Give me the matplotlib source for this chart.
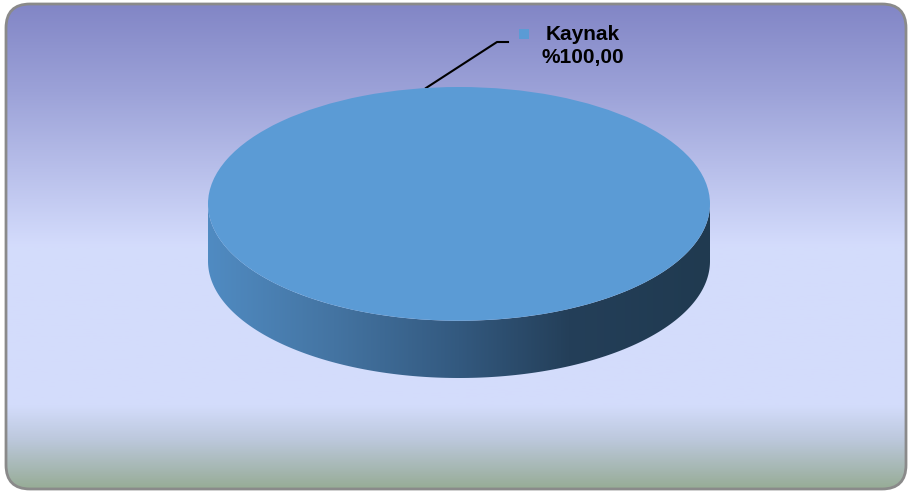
import numpy as np
import matplotlib
import matplotlib.pyplot as plt
from matplotlib.patches import FancyBboxPatch, Polygon, Rectangle
from matplotlib.colors import LinearSegmentedColormap

plt.rcParams['font.family'] = ['Liberation Sans', 'DejaVu Sans']

# data
labels = ['Kaynak']
values = [100.0]
colors = ['#5b9bd5']

W, H = 909, 493
fig = plt.figure(figsize=(W / 100, H / 100), dpi=100)

# background panel in pixel coordinates
bg = fig.add_axes([0, 0, 1, 1])
bg.set_xlim(0, W)
bg.set_ylim(H, 0)
bg.axis('off')

bg_cmap = LinearSegmentedColormap.from_list('bg', [
    (0.0, '#8286c6'), (0.18, '#9ca2d8'), (0.50, '#d4dcfc'),
    (0.83, '#d3dcfb'), (0.90, '#bcc8dc'), (1.0, '#97ac96')])
grad = np.linspace(0, 1, 256).reshape(-1, 1)
panel = FancyBboxPatch((6, 4), 900, 485, boxstyle='round,pad=0,rounding_size=24',
                       facecolor='none', edgecolor='#8a8a8a', linewidth=2, zorder=3)
bg.add_patch(panel)
img = bg.imshow(grad, cmap=bg_cmap, extent=(6, 906, 489, 4), aspect='auto', zorder=1)
img.set_clip_path(panel)

# pie axes: unit ellipse top face plus side depth
depth = 0.49
px_l, px_r, px_t, px_b = 208, 710, 87, 378
ax = fig.add_axes([px_l / W, (H - px_b) / H, (px_r - px_l) / W, (px_b - px_t) / H])
ax.patch.set_alpha(0)

# side band (front half of the cylinder)
t = np.linspace(np.pi, 2 * np.pi, 200)
top_edge = np.column_stack([np.cos(t), np.sin(t)])
bot_edge = np.column_stack([np.cos(t[::-1]), np.sin(t[::-1]) - depth])
side = Polygon(np.vstack([top_edge, bot_edge]), closed=True, facecolor='none',
               edgecolor='none', zorder=1)
ax.add_patch(side)
side_cmap = LinearSegmentedColormap.from_list('side', [
    (0.0, '#508bc2'), (0.25, '#4474a2'), (0.5, '#33597f'),
    (0.72, '#243f59'), (1.0, '#203a50')])
sg = ax.imshow(np.linspace(0, 1, 256).reshape(1, -1), cmap=side_cmap,
               extent=(-1, 1, -1 - depth, 0.05), aspect='auto', zorder=1)
sg.set_clip_path(side)

wedges, _ = ax.pie(values, colors=colors, radius=1, center=(0, 0), startangle=90,
                   wedgeprops=dict(linewidth=0))
for w in wedges:
    w.set_zorder(2)
ax.set_aspect('auto')
ax.set_xlim(-1, 1)
ax.set_ylim(-1 - depth, 1)
ax.axis('off')

# leader line and label
bg.plot([426, 497, 508], [88, 42, 42], color='black', linewidth=1.5, zorder=5)
bg.add_patch(Rectangle((519, 29), 10, 10, facecolor=colors[0], edgecolor='none', zorder=5))
pct = ('%' + f'{values[0] / sum(values) * 100:.2f}').replace('.', ',')
bg.text(583, 35, labels[0], ha='center', va='center', fontsize=15,
        fontweight='bold', color='black', zorder=5)
bg.text(583, 58, pct, ha='center', va='center', fontsize=15,
        fontweight='bold', color='black', zorder=5)

fig.savefig('out.png', dpi=100)
